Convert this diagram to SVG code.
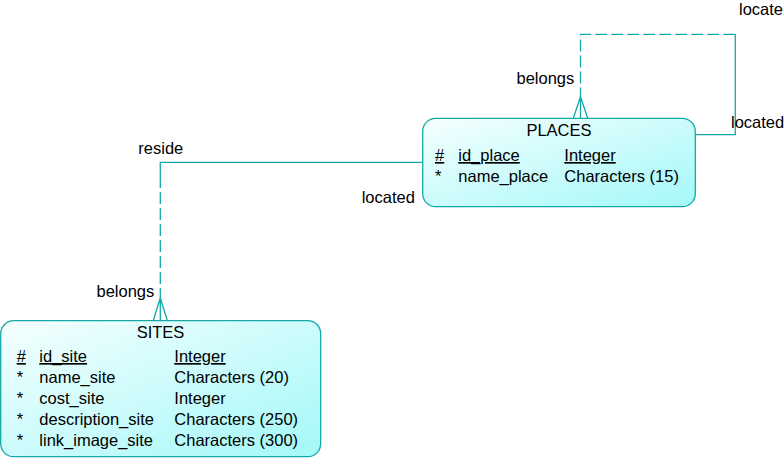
<svg xmlns="http://www.w3.org/2000/svg" width="784" height="458" viewBox="0 0 784 458">
<defs>
<linearGradient id="fill" x1="0" y1="0" x2="1" y2="1">
<stop offset="0" stop-color="#f6ffff"/>
<stop offset="1" stop-color="#a4f8f8"/>
</linearGradient>
<style>
text{font-family:"Liberation Sans",Arial,sans-serif;font-size:16.5px;fill:#000}
.box{fill:url(#fill);stroke:#14a8a8;stroke-width:1.3}
.ln{fill:none;stroke:#14a8a8;stroke-width:1.3}
.dash{stroke-dasharray:12 4}
.u{text-decoration:underline}
.t{text-anchor:middle}
</style>
</defs>
<rect width="784" height="458" fill="#fff"/>
<g id="connectors">
<path class="ln" d="M422.5 162.3H160.3V176"/>
<path class="ln dash" d="M160.3 176V298"/>
<path class="ln" d="M160.3 298L153.3 320.5M160.3 298L167.3 320.5M160.3 298V320.5"/>
<path class="ln" d="M695.5 134.7H735.3V34.3"/>
<path class="ln dash" d="M735.3 34.3H580.5V97"/>
<path class="ln" d="M580.5 96.7L573.3 118.3M580.5 96.7L587.7 118.3M580.5 96.7V118.3"/>
<text x="739" y="15">locate</text>
<text x="731" y="128">located</text>
<text x="516.5" y="84">belongs</text>
<text x="138.3" y="153.5">reside</text>
<text x="361.7" y="202.5">located</text>
<text x="96.5" y="296.5">belongs</text>
</g>
<g id="places">
<rect class="box" x="422.7" y="118.3" width="272.6" height="88.4" rx="13"/>
<text class="t" x="559" y="136">PLACES</text>
<text class="u" x="435" y="161">#</text>
<text class="u" x="458.3" y="161">id_place</text>
<text class="u" x="564.3" y="161">Integer</text>
<text x="435" y="182">*</text>
<text x="458.3" y="182">name_place</text>
<text x="564.3" y="182">Characters (15)</text>
</g>
<g id="sites">
<rect class="box" x="0.7" y="320.7" width="320" height="136" rx="13"/>
<text class="t" x="160.5" y="338">SITES</text>
<text class="u" x="16.7" y="362">#</text>
<text class="u" x="39.3" y="362">id_site</text>
<text class="u" x="174.3" y="362">Integer</text>
<text x="16.7" y="383">*</text>
<text x="39.3" y="383">name_site</text>
<text x="174.3" y="383">Characters (20)</text>
<text x="16.7" y="404">*</text>
<text x="39.3" y="404">cost_site</text>
<text x="174.3" y="404">Integer</text>
<text x="16.7" y="425">*</text>
<text x="39.3" y="425">description_site</text>
<text x="174.3" y="425">Characters (250)</text>
<text x="16.7" y="446">*</text>
<text x="39.3" y="446">link_image_site</text>
<text x="174.3" y="446">Characters (300)</text>
</g>
</svg>
